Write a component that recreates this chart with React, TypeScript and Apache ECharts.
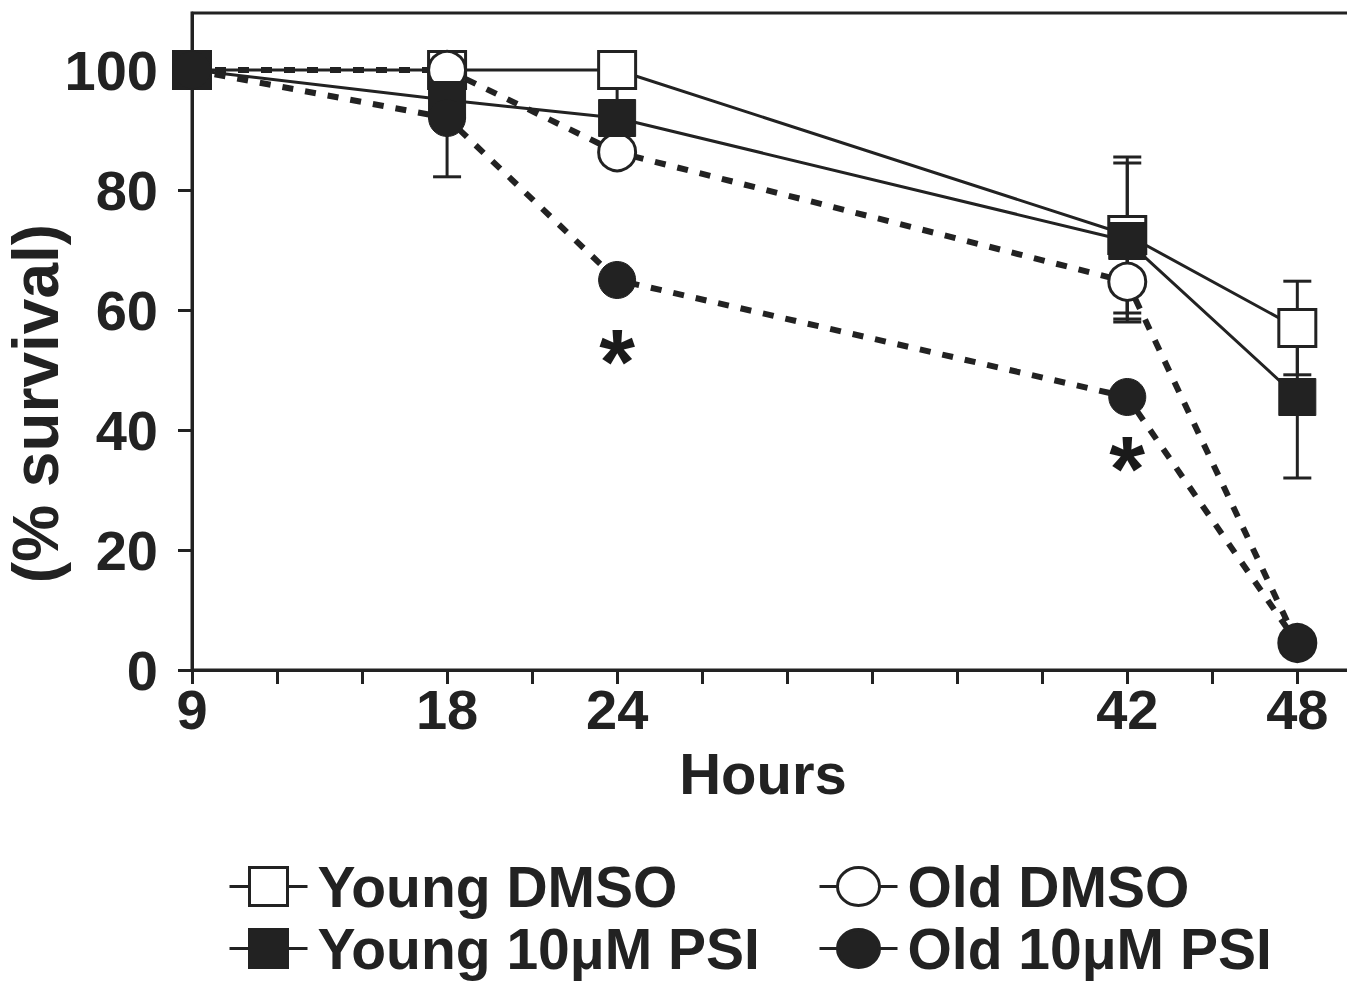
import React, { useEffect, useRef } from 'react';
import * as echarts from 'echarts';

// ---- data ----
const hours = [9, 18, 24, 42, 48];
const youngDmso = [100, 100, 100, 72.5, 57];
const youngPsi = [100, 95, 92, 71.5, 45.5];
const oldDmso = [100, 100, 86.3, 64.7, 4.5];
const oldPsi = [100, 92, 65, 45.5, 4.5];

// error bar half-widths (0 = none visible)
const youngDmsoErr = [0, 0, 0, 13, 7.8];
const youngPsiErr = [0, 0, 5.5, 13, 13.5];
const oldDmsoErr = [0, 0, 0, 6.7, 0];
const oldPsiErr = [0, 9.8, 0, 0, 0];

// significance markers (hours, % survival)
const starHours = [24, 42];
const starValues = [53.3, 35.5];

// axis ticks
const xTickValues = [9, 12, 15, 18, 21, 24, 27, 30, 33, 36, 39, 42, 45, 48];
const xLabelValues = [9, 18, 24, 42, 48];
const yTickValues = [0, 20, 40, 60, 80, 100];

const names = ['Young DMSO', 'Young 10μM PSI', 'Old DMSO', 'Old 10μM PSI'];

const INK = '#222';
const FONT = '"Liberation Sans", Arial, Helvetica, sans-serif';

const squareIcon = 'path://M0,20L20,20M20,1L58,1L58,39L20,39ZM58,20L78,20';
const circleIcon = 'path://M0,20L18,20M18,20A21,19,0,1,1,60,20A21,19,0,1,1,18,20ZM60,20L78,20';

function pairs(values: number[]) {
  return hours.map((h, i) => [h, values[i]]);
}
function errData(values: number[], errs: number[]) {
  const out: number[][] = [];
  hours.forEach((h, i) => {
    if (errs[i] > 0) out.push([h, values[i], errs[i]]);
  });
  return out;
}

export default function App() {
  const ref = useRef<HTMLDivElement>(null);
  useEffect(() => {
    if (!ref.current) return;
    const chart = echarts.init(ref.current, undefined, { renderer: 'svg' });

    const errorBars = [
      ...errData(youngDmso, youngDmsoErr),
      ...errData(youngPsi, youngPsiErr),
      ...errData(oldDmso, oldDmsoErr),
      ...errData(oldPsi, oldPsiErr),
    ];

    const textBase = { fontFamily: FONT, fontWeight: 'bold' as const, color: INK };
    const legendBase = {
      orient: 'vertical' as const,
      top: 858,
      height: 123,
      padding: 0,
      itemWidth: 78,
      itemHeight: 40,
      itemGap: 5,
      selectedMode: false,
      textStyle: { ...textBase, fontSize: 57, lineHeight: 56, padding: [0, 0, 0, 5] },
    };

    chart.setOption({
      animation: false,
      backgroundColor: '#fff',
      grid: {
        left: 192,
        top: 13,
        right: -7,
        bottom: 311,
        outerBoundsMode: 'none',
        containLabel: false,
        show: true,
        borderColor: INK,
        borderWidth: 3,
        backgroundColor: 'transparent',
      },
      xAxis: {
        type: 'value',
        min: 9,
        max: 50,
        interval: 3,
        name: 'Hours',
        nameLocation: 'middle',
        nameGap: 74,
        nameMoveOverlap: false,
        nameTextStyle: { ...textBase, fontSize: 58, padding: [0, 20, 0, 0] },
        splitLine: { show: false },
        axisLine: { lineStyle: { color: INK, width: 3 } },
        axisTick: { customValues: xTickValues, length: 14, lineStyle: { color: INK, width: 3 } },
        axisLabel: { customValues: xLabelValues, ...textBase, fontSize: 56, margin: 11 },
      },
      yAxis: {
        type: 'value',
        min: 0,
        max: 109.5,
        interval: 20,
        name: '(% survival)',
        nameLocation: 'middle',
        nameRotate: 90,
        nameGap: 124,
        nameMoveOverlap: false,
        nameTextStyle: { ...textBase, fontSize: 64, padding: [0, 124, 0, 0] },
        splitLine: { show: false },
        axisLine: { lineStyle: { color: INK, width: 3 } },
        axisTick: { customValues: yTickValues, length: 14, lineStyle: { color: INK, width: 3 } },
        axisLabel: { customValues: yTickValues, ...textBase, fontSize: 56, margin: 34 },
      },
      legend: [
        {
          ...legendBase,
          left: 228,
          data: [
            { name: names[0], icon: squareIcon, itemStyle: { color: '#fff', borderColor: INK, borderWidth: 3 } },
            { name: names[1], icon: squareIcon, itemStyle: { color: INK, borderColor: INK, borderWidth: 3 } },
          ],
        },
        {
          ...legendBase,
          left: 818,
          data: [
            { name: names[2], icon: circleIcon, itemStyle: { color: '#fff', borderColor: INK, borderWidth: 3 } },
            { name: names[3], icon: circleIcon, itemStyle: { color: INK, borderColor: INK, borderWidth: 3 } },
          ],
        },
      ],
      series: [
        {
          type: 'custom',
          name: 'error',
          z: 1,
          encode: { x: 0, y: 1 },
          data: errorBars,
          renderItem: (params: any, api: any) => {
            const x = api.value(0);
            const y = api.value(1);
            const e = api.value(2);
            const top = api.coord([x, y + e]);
            const bot = api.coord([x, y - e]);
            const hw = 14;
            const style = { stroke: INK, lineWidth: 3 };
            return {
              type: 'group',
              children: [
                { type: 'line', shape: { x1: top[0], y1: top[1], x2: bot[0], y2: bot[1] }, style },
                { type: 'line', shape: { x1: top[0] - hw, y1: top[1], x2: top[0] + hw, y2: top[1] }, style },
                { type: 'line', shape: { x1: bot[0] - hw, y1: bot[1], x2: bot[0] + hw, y2: bot[1] }, style },
              ],
            };
          },
        },
        {
          type: 'line',
          name: names[0],
          z: 2,
          data: pairs(youngDmso),
          symbol: 'rect',
          symbolSize: 37,
          lineStyle: { color: INK, width: 3 },
          itemStyle: { color: '#fff', borderColor: INK, borderWidth: 3 },
        },
        {
          type: 'line',
          name: names[2],
          z: 3,
          data: pairs(oldDmso),
          symbol: 'circle',
          symbolSize: 37,
          lineStyle: { color: INK, width: 6, type: [11, 12] },
          itemStyle: { color: '#fff', borderColor: INK, borderWidth: 3 },
        },
        {
          type: 'line',
          name: names[1],
          z: 4,
          data: pairs(youngPsi),
          symbol: 'rect',
          symbolSize: 37,
          lineStyle: { color: INK, width: 3 },
          itemStyle: { color: INK, borderColor: INK, borderWidth: 1 },
        },
        {
          type: 'line',
          name: names[3],
          z: 5,
          data: pairs(oldPsi),
          symbol: 'circle',
          symbolSize: 37,
          lineStyle: { color: INK, width: 6, type: [11, 12] },
          itemStyle: { color: INK, borderColor: INK, borderWidth: 1 },
        },
        {
          type: 'scatter',
          name: 'significance',
          z: 6,
          symbolSize: 1,
          itemStyle: { color: 'rgba(0,0,0,0)' },
          data: starHours.map((h, i) => [h, starValues[i]]),
          label: {
            show: true,
            position: 'inside',
            formatter: '*',
            fontFamily: FONT,
            fontWeight: 'bold',
            color: '#1a1a1a',
            opacity: 1,
            textBorderWidth: 0,
            fontSize: 92,
            offset: [0, 12],
          },
        },
      ],
    });
    return () => chart.dispose();
  }, []);

  return (
    <div
      ref={ref}
      style={{ position: 'absolute', left: 0, top: 0, width: 1347, height: 981 }}
    />
  );
}
